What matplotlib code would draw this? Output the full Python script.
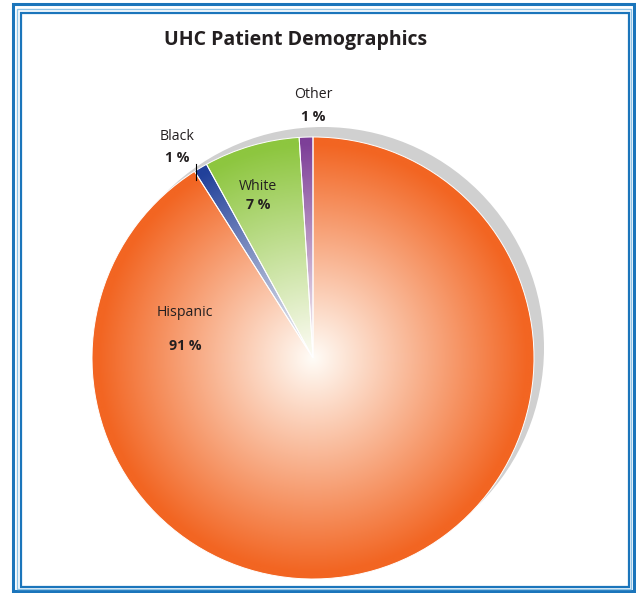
import numpy as np
import matplotlib.pyplot as plt
from matplotlib.patches import Circle, Rectangle
from matplotlib.colors import to_rgb

plt.rcParams['font.family'] = ['Open Sans', 'DejaVu Sans']

# data
labels = ["Hispanic", "Black", "White", "Other"]
shares = [91, 1, 7, 1]
colors = ["#F26522", "#21409A", "#8DC63F", "#7D3F98"]

W, H = 636, 593
CX, CY, R = 313, H - 358, 221

fig = plt.figure(figsize=(W / 100, H / 100), dpi=100)
ax = fig.add_axes([0, 0, 1, 1])

# shadow
ax.add_patch(Circle((CX + 10, CY + 10), R, facecolor="#D0D0D0", edgecolor="none", zorder=1))

wedges, _ = ax.pie(shares, startangle=90, counterclock=False, center=(CX, CY), radius=R,
                   wedgeprops=dict(edgecolor="white", linewidth=0.7))

# radial gradient fill: white centre -> slice colour at the rim
n = 400
yy, xx = np.mgrid[-1:1:n * 1j, -1:1:n * 1j]
t = np.clip(np.hypot(xx, yy) * 1.03, 0, 1)[..., None]
for w, c in zip(wedges, colors):
    rgb = np.array(to_rgb(c))
    img = (1 - t) * np.array([1.0, 0.99, 0.97]) + t * rgb
    im = ax.imshow(img, extent=[CX - R, CX + R, CY - R, CY + R], origin="lower",
                   interpolation="bilinear", zorder=2)
    im.set_clip_path(w)
    w.set_facecolor("none")
    w.set_zorder(3)

# labels (pixel positions from the top-left)
TXT = "#231F20"
lab_pos = {"Hispanic": (185, 313, 346), "Black": (177, 136, 158),
           "White": (258, 186, 205), "Other": (313, 94, 117)}
for lab, v in zip(labels, shares):
    x, y1, y2 = lab_pos[lab]
    ax.text(x, H - y1, lab, ha="center", va="center", fontsize=10.2, color=TXT, zorder=5)
    ax.text(x, H - y2, f"{v} %", ha="center", va="center", fontsize=10.2,
            fontweight="bold", color=TXT, zorder=5)
ax.plot([196, 196], [H - 164, H - 180], color="black", lw=0.8, zorder=6)

ax.text(296, H - 40, "UHC Patient Demographics", ha="center", va="center",
        fontsize=14, fontweight="bold", color=TXT)

# double blue frame
BLUE, LIGHT = "#1B75BB", "#8EC3E6"
ax.add_patch(Rectangle((13, H - 591), 621, 587, fill=False, edgecolor=BLUE, lw=2.2, clip_on=False))
ax.add_patch(Rectangle((17, H - 589), 614, 580, fill=False, edgecolor=LIGHT, lw=1.0, clip_on=False))
ax.add_patch(Rectangle((21, H - 587), 608, 574, fill=False, edgecolor=BLUE, lw=1.6, clip_on=False))

ax.set_xlim(0, W)
ax.set_ylim(0, H)
ax.set_aspect("auto")
ax.axis("off")

fig.savefig("out.png", dpi=100)
